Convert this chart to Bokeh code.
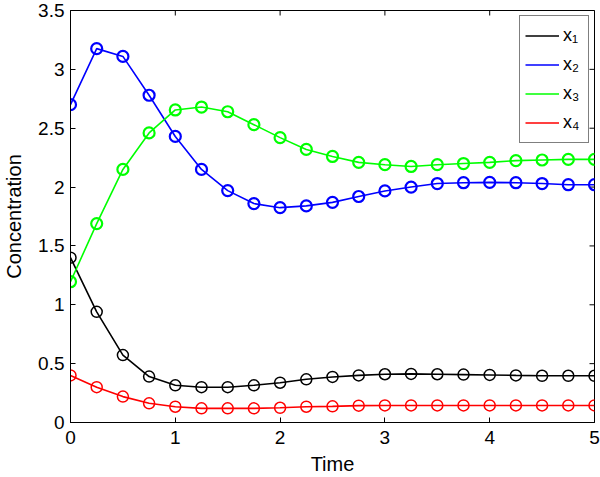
import math
from bokeh.plotting import figure
from bokeh.models import FixedTicker, Range1d, Legend, LegendItem
from bokeh.embed import file_html
from bokeh.resources import INLINE

# ---- data ----
time = [0, 0.25, 0.5, 0.75, 1, 1.25, 1.5, 1.75, 2, 2.25, 2.5, 2.75,
        3, 3.25, 3.5, 3.75, 4, 4.25, 4.5, 4.75, 5]
x1 = [1.40, 0.94, 0.573, 0.39, 0.316, 0.30, 0.30, 0.316, 0.338, 0.367, 0.387,
      0.40, 0.41, 0.413, 0.41, 0.407, 0.404, 0.40, 0.397, 0.397, 0.397]
x2 = [2.70, 3.176, 3.11, 2.78, 2.43, 2.15, 1.97, 1.86, 1.825, 1.84, 1.87,
      1.92, 1.967, 2.00, 2.03, 2.037, 2.04, 2.037, 2.03, 2.02, 2.02]
x3 = [1.196, 1.69, 2.15, 2.46, 2.655, 2.68, 2.64, 2.53, 2.42, 2.32, 2.26,
      2.21, 2.19, 2.175, 2.19, 2.20, 2.21, 2.225, 2.23, 2.235, 2.235]
x4 = [0.40, 0.30, 0.22, 0.163, 0.134, 0.12, 0.12, 0.12, 0.125, 0.134, 0.137,
      0.143, 0.145, 0.145, 0.145, 0.145, 0.145, 0.145, 0.145, 0.145, 0.145]

series_names = ["x\u2081", "x\u2082", "x\u2083", "x\u2084"]
series_colors = ["#000000", "#0000FF", "#00FF00", "#FF0000"]

x_ticks = [0, 1, 2, 3, 4, 5]
x_tick_labels = ["0", "1", "2", "3", "4", "5"]
y_ticks = [0, 0.5, 1, 1.5, 2, 2.5, 3, 3.5]
y_tick_labels = ["0", "0.5", "1", "1.5", "2", "2.5", "3", "3.5"]
x_lim = (0, 5)
y_lim = (0, 3.5)

FONT = "Liberation Sans"

p = figure(width=600, height=477, output_backend="svg", toolbar_location=None,
           x_range=Range1d(*x_lim), y_range=Range1d(*y_lim),
           min_border_left=70, min_border_right=6, min_border_top=10,
           min_border_bottom=55)
p.grid.visible = False
p.outline_line_color = "black"
p.outline_line_width = 1
p.background_fill_color = "white"
p.border_fill_color = "white"

def style_axis(ax, ticks, labels):
    ax.ticker = FixedTicker(ticks=ticks)
    ax.major_label_overrides = {float(t): l for t, l in zip(ticks, labels)}
    ax.major_tick_in = 5
    ax.major_tick_out = 0
    ax.minor_tick_line_color = None
    ax.axis_line_color = "black"
    ax.major_tick_line_color = "black"
    ax.major_label_text_font = FONT
    ax.major_label_text_color = "black"
    ax.major_label_text_font_size = "19px"
    ax.axis_label_text_font = FONT
    ax.axis_label_text_font_style = "normal"
    ax.axis_label_text_color = "black"
    ax.axis_label_text_font_size = "20px"

style_axis(p.xaxis[0], x_ticks, x_tick_labels)
style_axis(p.yaxis[0], y_ticks, y_tick_labels)
p.xaxis[0].axis_label = "Time"
p.yaxis[0].axis_label = "Concentration"
p.xaxis[0].major_label_standoff = 8
p.yaxis[0].major_label_standoff = 6
p.xaxis[0].axis_label_standoff = 6
p.yaxis[0].axis_label_standoff = 10

# inward ticks on the top and right edges of the box (half of each dash is
# clipped away by the frame)
p.scatter(x_ticks, [y_lim[1]] * len(x_ticks), marker="dash", size=10,
          angle=math.pi / 2, line_color="black", line_width=1)
p.scatter([x_lim[1]] * len(y_ticks), y_ticks, marker="dash", size=10,
          line_color="black", line_width=1)

items = []
for name, ys, col in zip(series_names, [x1, x2, x3, x4], series_colors):
    lw_marker = 2.2 if col in ("#0000FF", "#00FF00") else 1.5
    r = p.line(time, ys, line_color=col, line_width=1.6)
    p.scatter(time, ys, marker="circle", size=11, fill_color=None,
              line_color=col, line_width=lw_marker)
    items.append(LegendItem(label=name, renderers=[r]))

legend = Legend(items=items, location="top_right")
legend.label_text_font = FONT
legend.label_text_font_size = "18px"
legend.label_text_color = "black"
legend.label_height = 29
legend.glyph_height = 29
legend.glyph_width = 34
legend.label_standoff = 4
legend.spacing = 0
legend.padding = 5
legend.margin = 5
legend.border_line_color = "black"
legend.border_line_width = 1
legend.background_fill_color = "white"
legend.background_fill_alpha = 1
p.add_layout(legend, "center")

open("out.html", "w").write(file_html(p, INLINE))
